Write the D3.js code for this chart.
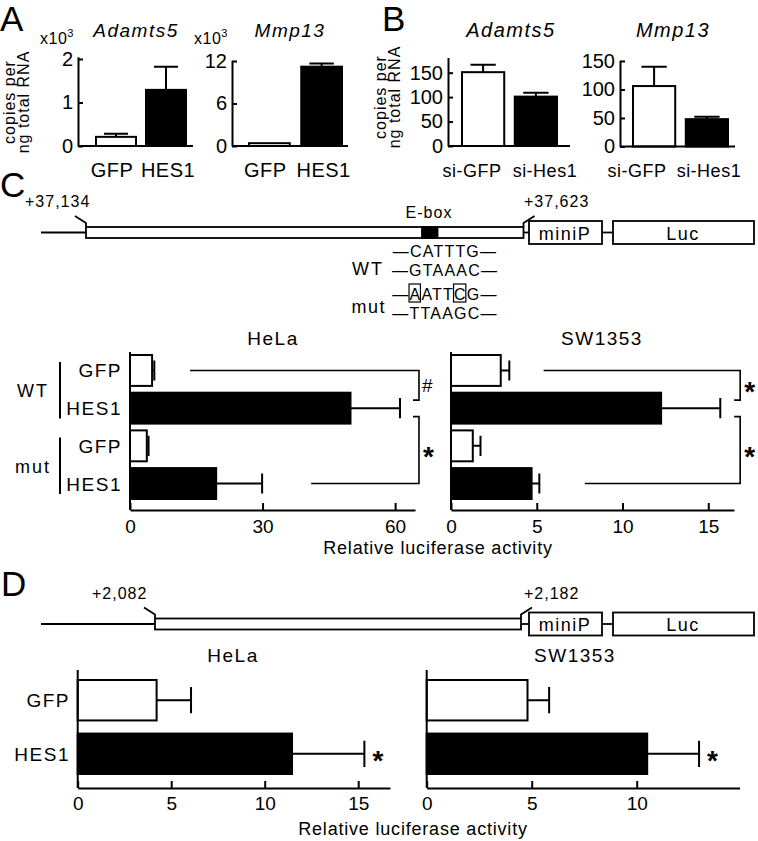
<!DOCTYPE html>
<html>
<head>
<meta charset="utf-8">
<title>HES1 targets</title>
<style>
  body { margin: 0; background: #fff; }
  svg { display: block; font-family: "Liberation Sans", Arial, sans-serif; }
  text { fill: #000; }
</style>
<script src="https://cdn.jsdelivr.net/npm/d3@7"></script>
</head>
<body>
<svg id="fig" width="758" height="841"></svg>
<script>
// ---- data ----
var aGroups = ["GFP", "HES1"];
var aAdamts5 = [0.21, 1.29];
var aAdamts5Err = [0.07, 0.53];
var aAdamts5Ticks = [0, 1, 2];
var aMmp13 = [0.4, 11.2];
var aMmp13Err = [0, 0.45];
var aMmp13Ticks = [0, 6, 12];

var bGroups = ["si-GFP", "si-Hes1"];
var bAdamts5 = [151, 101];
var bAdamts5Err = [15, 8];
var bMmp13 = [106, 48];
var bMmp13Err = [34, 4];
var bTicks = [0, 50, 100, 150];

var cRows = ["WT GFP", "WT HES1", "mut GFP", "mut HES1"];
var cRowLabels = ["GFP", "HES1", "GFP", "HES1"];
var cHela = [5.0, 49.9, 3.8, 19.5];
var cHelaErr = [0.5, 11.2, 0.4, 10.4];
var cHelaTicks = [0, 30, 60];
var cSw = [2.9, 12.25, 1.27, 4.7];
var cSwErr = [0.5, 3.45, 0.45, 0.45];
var cSwTicks = [0, 5, 10, 15];

var dRows = ["GFP", "HES1"];
var dHela = [4.22, 11.46];
var dHelaErr = [1.84, 3.87];
var dHelaTicks = [0, 5, 10, 15];
var dSw = [4.8, 10.5];
var dSwErr = [1.03, 2.47];
var dSwTicks = [0, 5, 10];

var svg = d3.select("#fig");
var fills2 = ["#fff", "#000"];
var fills4 = ["#fff", "#000", "#fff", "#000"];
var fmt = d3.format("d");

function label(x, y, s, size, anchor, extra) {
  var t = svg.append("text").attr("x", x).attr("y", y)
    .attr("font-size", size).attr("text-anchor", anchor || "start").text(s);
  if (extra) extra(t);
  return t;
}

function styleAxis(ga, size) {
  ga.attr("font-size", null).attr("font-family", null);
  ga.selectAll("text").attr("font-size", size).attr("fill", "#000");
  ga.selectAll("line,path").attr("stroke", "#000").attr("stroke-width", 2);
}

// vertical bar chart (panels A and B)
function vChart(o) {
  var y = d3.scaleLinear().domain([0, o.max]).range([o.base, o.top]);
  var x = d3.scaleBand().domain(o.groups).range(o.band).paddingInner(o.pad);
  var g = svg.append("g");
  var cap = x.bandwidth() * 0.6;

  g.selectAll(".err").data(o.values).join("path")
    .attr("d", function(d, i) {
      if (!o.errs[i]) return null;
      var cx = x(o.groups[i]) + x.bandwidth() / 2, yt = y(d + o.errs[i]);
      return "M" + cx + "," + y(d) + "V" + yt + "M" + (cx - cap / 2) + "," + yt + "H" + (cx + cap / 2);
    })
    .attr("fill", "none").attr("stroke", "#000").attr("stroke-width", 2);

  g.selectAll(".bar").data(o.values).join("rect")
    .attr("x", function(d, i) { return x(o.groups[i]); })
    .attr("y", function(d) { return y(d); })
    .attr("width", x.bandwidth())
    .attr("height", function(d) { return o.base - y(d); })
    .attr("fill", function(d, i) { return fills2[i]; })
    .attr("stroke", "#000").attr("stroke-width", 2);

  var ga = g.append("g").attr("transform", "translate(" + o.x0 + ",0)")
    .call(d3.axisLeft(y).tickValues(o.ticks).tickFormat(fmt).tickSizeInner(-5).tickSizeOuter(0).tickPadding(5));
  styleAxis(ga, 20);

  g.append("line").attr("x1", o.x0).attr("x2", o.x1).attr("y1", o.base).attr("y2", o.base)
    .attr("stroke", "#000").attr("stroke-width", 2);

  g.selectAll(".cat").data(o.groups).join("text")
    .attr("x", function(d, i) { return x(d) + x.bandwidth() / 2 + o.shift[i]; })
    .attr("y", 177).attr("text-anchor", "middle").attr("font-size", o.catSize)
    .attr("letter-spacing", 0.5)
    .text(function(d) { return d; });

  label(o.titleX, 37, o.title, o.titleSize, "middle", function(t) {
    t.attr("font-style", "italic").attr("letter-spacing", 1.5);
  });
}

// horizontal bar chart (panels C and D)
function hChart(o) {
  var x = d3.scaleLinear().domain([0, o.max]).range([o.x0, o.x1]);
  var y = d3.scaleBand().domain(o.rows).range(o.band).paddingInner(o.pad);
  var bw = y.bandwidth(), cap = bw * 0.65;
  var g = svg.append("g");

  g.selectAll(".err").data(o.values).join("path")
    .attr("d", function(d, i) {
      var yc = y(o.rows[i]) + bw / 2, xe = x(d + o.errs[i]);
      return "M" + x(d) + "," + yc + "H" + xe + "M" + xe + "," + (yc - cap / 2) + "V" + (yc + cap / 2);
    })
    .attr("fill", "none").attr("stroke", "#000").attr("stroke-width", 2);

  g.selectAll(".bar").data(o.values).join("rect")
    .attr("x", o.x0)
    .attr("y", function(d, i) { return y(o.rows[i]); })
    .attr("width", function(d) { return x(d) - o.x0; })
    .attr("height", bw)
    .attr("fill", function(d, i) { return o.fills[i]; })
    .attr("stroke", "#000").attr("stroke-width", 2);

  var ga = g.append("g").attr("transform", "translate(0," + o.base + ")")
    .call(d3.axisBottom(x).tickValues(o.ticks).tickFormat(fmt).tickSizeInner(-7).tickSizeOuter(0).tickPadding(o.tpad));
  styleAxis(ga, 19);

  g.append("line").attr("x1", o.x0).attr("x2", o.x0).attr("y1", o.top).attr("y2", o.base)
    .attr("stroke", "#000").attr("stroke-width", 2);

  if (o.rowLabels) {
    g.selectAll(".row").data(o.rowLabels).join("text")
      .attr("x", o.labelX)
      .attr("y", function(d, i) { return y(o.rows[i]) + bw / 2 + 7; })
      .attr("text-anchor", "end").attr("font-size", 19).attr("letter-spacing", 1.5)
      .text(function(d) { return d; });
  }

  label(o.titleX, o.titleY, o.title, 19, "middle", function(t) { t.attr("letter-spacing", 1.5); });
  return { x: x, y: y, bw: bw };
}

function yLabel(cx, cy) {
  var t = svg.append("text").attr("transform", "translate(" + cx + "," + cy + ") rotate(-90)")
    .attr("text-anchor", "middle").attr("font-size", 16).attr("letter-spacing", 1);
  t.append("tspan").attr("x", 0).attr("y", 0).text("copies per");
  t.append("tspan").attr("x", 0).attr("y", 13.5).text("ng total RNA");
}

function times3(x, y) {
  var t = label(x, y, "x10", 16, "start", function(t) { t.attr("letter-spacing", 0.5); });
  t.append("tspan").attr("dy", -7).attr("font-size", 11).text("3");
}

// ---------- panel A ----------
label(0, 31, "A", 35);
yLabel(15, 102);
times3(40, 44);
times3(194, 44);
vChart({ groups: aGroups, values: aAdamts5, errs: aAdamts5Err, ticks: aAdamts5Ticks,
  max: 2.05, base: 146, top: 56.8, x0: 78, x1: 193, band: [96, 186], pad: 0.2,
  shift: [-4, 2], catSize: 20, title: "Adamts5", titleX: 136, titleSize: 19 });
vChart({ groups: aGroups, values: aMmp13, errs: aMmp13Err, ticks: aMmp13Ticks,
  max: 12.1, base: 146, top: 60.3, x0: 232, x1: 348, band: [249, 342], pad: 0.22,
  shift: [-4, 2], catSize: 20, title: "Mmp13", titleX: 290, titleSize: 19 });

// ---------- panel B ----------
label(382, 31, "B", 35);
yLabel(386, 97);
vChart({ groups: bGroups, values: bAdamts5, errs: bAdamts5Err, ticks: bTicks,
  max: 181, base: 146, top: 57.5, x0: 448, x1: 570, band: [462, 557], pad: 0.2,
  shift: [-11, 9], catSize: 18, title: "Adamts5", titleX: 511, titleSize: 20 });
vChart({ groups: bGroups, values: bMmp13, errs: bMmp13Err, ticks: bTicks,
  max: 151, base: 146.5, top: 60.4, x0: 620, x1: 735, band: [633, 728], pad: 0.2,
  shift: [-17, 2], catSize: 18, title: "Mmp13", titleX: 673, titleSize: 20 });

// ---------- reporter constructs ----------
function construct(lineY, x0, boxX0, boxX1, leftTxt, leftTxtX, rightTxt, ebox) {
  var g = svg.append("g").attr("fill", "none").attr("stroke", "#000").attr("stroke-width", 1.8);
  var bh = 11, ph = 23;
  g.append("line").attr("x1", x0).attr("x2", boxX0).attr("y1", lineY).attr("y2", lineY);
  g.append("rect").attr("x", boxX0).attr("y", lineY - bh / 2).attr("width", boxX1 - boxX0).attr("height", bh).attr("fill", "#fff");
  if (ebox) g.append("rect").attr("x", ebox[0]).attr("y", lineY - bh / 2).attr("width", ebox[1] - ebox[0]).attr("height", bh).attr("fill", "#000");
  g.append("line").attr("x1", boxX1).attr("x2", 529).attr("y1", lineY).attr("y2", lineY);
  g.append("rect").attr("x", 529).attr("y", lineY - ph / 2).attr("width", 73).attr("height", ph).attr("fill", "#fff");
  g.append("line").attr("x1", 602).attr("x2", 613).attr("y1", lineY).attr("y2", lineY);
  g.append("rect").attr("x", 613).attr("y", lineY - ph / 2).attr("width", 141).attr("height", ph).attr("fill", "#fff");
  // leaders
  var top = lineY - bh / 2;
  g.append("path").attr("d", "M" + (boxX0 - 11) + "," + (top - 11) + "L" + boxX0 + "," + (top - 4) + "V" + top);
  g.append("path").attr("d", "M" + boxX1 + "," + top + "V" + (top - 4) + "L" + (boxX1 + 11) + "," + (top - 11));
  label(leftTxtX, top - 20, leftTxt, 16, "start", function(t) { t.attr("letter-spacing", 1); });
  label(524, top - 20, rightTxt, 16, "start", function(t) { t.attr("letter-spacing", 1); });
  label(565, lineY + 7, "miniP", 18, "middle", function(t) { t.attr("letter-spacing", 1.5); });
  label(683, lineY + 7, "Luc", 18, "middle", function(t) { t.attr("letter-spacing", 1.5); });
}

// ---------- panel C ----------
label(0, 197, "C", 35);
construct(232.5, 41, 86, 523.5, "+37,134", 25, "+37,623", [422, 437.5]);
label(429, 218, "E-box", 16, "middle", function(t) { t.attr("letter-spacing", 1); });
label(384, 275, "WT", 18, "end", function(t) { t.attr("letter-spacing", 2); });
label(386, 313, "mut", 18, "end", function(t) { t.attr("letter-spacing", 1.5); });
var seqs = ["\u2014CATTTG\u2014", "\u2014GTAAAC\u2014", "\u2014AATTCG\u2014", "\u2014TTAAGC\u2014"];
var seqY = [257, 276, 300, 319];
var seqText = svg.selectAll(".seq").data(seqs).join("text")
  .attr("x", 445).attr("y", function(d, i) { return seqY[i]; })
  .attr("text-anchor", "middle").attr("font-size", 16).attr("letter-spacing", 1.2)
  .text(function(d) { return d; });
// boxes round the mutated bases
var mutNode = seqText.nodes()[2];
[1, 5].forEach(function(ci) {
  var e = mutNode.getExtentOfChar(ci);
  svg.append("rect").attr("x", e.x - 0.5).attr("y", 284).attr("width", e.width - 0.5).attr("height", 18)
    .attr("fill", "none").attr("stroke", "#000").attr("stroke-width", 1.2);
});

var cH = hChart({ rows: cRows, rowLabels: cRowLabels, values: cHela, errs: cHelaErr, fills: fills4,
  ticks: cHelaTicks, max: 64.5, x0: 130, x1: 415, base: 510, top: 352,
  band: [355, 499], pad: 0.18, tpad: 10, labelX: 122,
  title: "HeLa", titleX: 273, titleY: 345 });
var cS = hChart({ rows: cRows, values: cSw, errs: cSwErr, fills: fills4,
  ticks: cSwTicks, max: 16.5, x0: 451, x1: 734, base: 510, top: 352,
  band: [355, 499], pad: 0.18, tpad: 10,
  title: "SW1353", titleX: 602, titleY: 345 });
label(438, 554, "Relative luciferase activity", 18, "middle", function(t) { t.attr("letter-spacing", 0.8); });

// WT / mut group marks
[["WT", 0, 1], ["mut", 2, 3]].forEach(function(gr) {
  var y0 = cH.y(cRows[gr[1]]) + 7, y1 = cH.y(cRows[gr[2]]) + cH.bw - 5;
  svg.append("line").attr("x1", 60).attr("x2", 60).attr("y1", y0).attr("y2", y1)
    .attr("stroke", "#000").attr("stroke-width", 2);
  label(33, (y0 + y1) / 2 + 7, gr[0], 18, "middle", function(t) { t.attr("letter-spacing", 2); });
});

// significance brackets
function brackets(c, bx, startTop, startBot, topMark) {
  var s = svg.append("g").attr("fill", "none").attr("stroke", "#000").attr("stroke-width", 1.6);
  var yc = function(i) { return c.y(cRows[i]) + c.bw / 2; };
  var X = c.x(bx);
  var a0 = yc(0), a1 = yc(1) - 8, b0 = yc(1) + 8.5, b1 = yc(3);
  s.append("path").attr("d", "M" + c.x(startTop) + "," + a0 + "H" + X + "V" + a1 + "H" + (X - 6));
  s.append("path").attr("d", "M" + (X - 6) + "," + b0 + "H" + X + "V" + b1 + "H" + c.x(startBot));
  if (topMark === "#") label(X + 3, (a0 + a1) / 2 + 7, "#", 19);
  else label(X + 4, (a0 + a1) / 2 + 16, "*", 28, "start", function(t) { t.attr("font-weight", "bold"); });
  label(X + 4, (b0 + b1) / 2 + 16, "*", 28, "start", function(t) { t.attr("font-weight", "bold"); });
}
brackets(cH, 65.4, 13.6, 41, "#");
brackets(cS, 16.86, 5.4, 7.8, "*");

// ---------- panel D ----------
label(1, 596, "D", 35);
construct(624, 41, 155, 521, "+2,082", 92, "+2,182", null);

var dH = hChart({ rows: dRows, rowLabels: dRows, values: dHela, errs: dHelaErr, fills: fills2,
  ticks: dHelaTicks, max: 16.7, x0: 77.7, x1: 390, base: 788, top: 670,
  band: [680, 774], pad: 0.245, tpad: 9, labelX: 70,
  title: "HeLa", titleX: 233, titleY: 662 });
var dS = hChart({ rows: dRows, values: dSw, errs: dSwErr, fills: fills2,
  ticks: dSwTicks, max: 14.9, x0: 426.7, x1: 739.6, base: 788, top: 670,
  band: [680, 774], pad: 0.245, tpad: 9,
  title: "SW1353", titleX: 575, titleY: 662 });
label(413, 835, "Relative luciferase activity", 18, "middle", function(t) { t.attr("letter-spacing", 0.8); });

[[dH, dHela, dHelaErr], [dS, dSw, dSwErr]].forEach(function(p) {
  var c = p[0], i = 1;
  label(c.x(p[1][i] + p[2][i]) + 8, c.y(dRows[i]) + c.bw / 2 + 16, "*", 28, "start",
    function(t) { t.attr("font-weight", "bold"); });
});
</script>
</body>
</html>
